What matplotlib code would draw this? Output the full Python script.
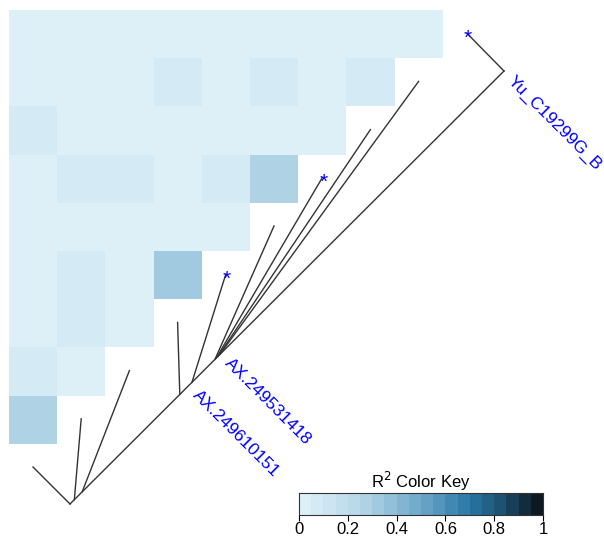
import numpy as np
import matplotlib.pyplot as plt
from matplotlib.colors import LinearSegmentedColormap, BoundaryNorm

plt.rcParams['font.family'] = ['Liberation Sans', 'DejaVu Sans']

# R^2 between SNP pairs, one list per row of the triangle
r2_rows = [
    [0.02, 0.02, 0.02, 0.02, 0.02, 0.02, 0.02, 0.02, 0.02],
    [0.02, 0.02, 0.02, 0.07, 0.02, 0.07, 0.02, 0.07],
    [0.07, 0.02, 0.02, 0.02, 0.02, 0.02, 0.02],
    [0.02, 0.07, 0.07, 0.02, 0.07, 0.27],
    [0.02, 0.02, 0.02, 0.02, 0.02],
    [0.02, 0.07, 0.02, 0.32],
    [0.02, 0.07, 0.02],
    [0.07, 0.02],
    [0.27],
]
# relative physical position of each SNP along the chromosome segment
snp_pos = [0.0, 0.010, 0.028, 0.253, 0.281, 0.334, 0.337, 0.341, 0.345, 1.0]
snp_star = [4, 6, 9]
label_names = ['AX.249610151', 'AX.249531418', 'Yu_C19299G_B']
label_pos = [0.285, 0.359, 1.01]

key_colors = ['#ddf0f8', '#b3d4e6', '#6ca7c9', '#2a78a8', '#1c4f6e', '#0e1820']
cmap = LinearSegmentedColormap.from_list('ldblue', list(zip([0, 0.25, 0.5, 0.7, 0.85, 1], key_colors)))
bounds = np.linspace(0, 1, 21)
norm = BoundaryNorm(bounds, cmap.N)

fig = plt.figure(figsize=(6.04, 5.37), dpi=100)
ax = fig.add_axes([0, 0, 1, 1])
ax.set_xlim(0, 604)
ax.set_ylim(537, 0)
ax.axis('off')

n = len(r2_rows)
mat = np.full((n, n), np.nan)
for r, row in enumerate(r2_rows):
    mat[r, :len(row)] = row
cell = 48.2
xe = 9 + cell * np.arange(n + 1)
ye = 10 + cell * np.arange(n + 1)
ax.pcolormesh(xe, ye, np.ma.masked_invalid(mat), cmap=cmap, norm=norm)

# chromosome segment and connectors to the triangle's diagonal
p0 = np.array([70, 504])
p1 = np.array([504, 71])
line_color = '#333333'
ax.plot([p0[0], p1[0]], [p0[1], p1[1]], color=line_color, lw=1)
for k, t in enumerate(snp_pos):
    start = p0 + t * (p1 - p0)
    end = np.array([33 + cell * k, 467 - cell * k])
    ax.plot([start[0], end[0]], [start[1], end[1]], color=line_color, lw=1)
    if k in snp_star:
        ax.text(end[0] + 1, end[1] + 5, '*', color='blue', fontsize=15,
                ha='center', va='center')

for name, t in zip(label_names, label_pos):
    anchor = p0 + t * (p1 - p0) + 7
    ax.text(anchor[0], anchor[1], name, color='blue', fontsize=12.5,
            rotation=-45, rotation_mode='anchor', ha='left', va='top')

# colour key
cax = fig.add_axes([299 / 604, 1 - 515 / 537, 244 / 604, 22 / 537])
cax.pcolormesh(bounds, [0, 1], ((bounds[:-1] + bounds[1:]) / 2)[None, :], cmap=cmap, norm=norm)
cax.set_xlim(0, 1)
cax.set_ylim(0, 1)
cax.set_yticks([])
cax.set_xticks([0, 0.2, 0.4, 0.6, 0.8, 1])
cax.set_xticklabels(['0', '0.2', '0.4', '0.6', '0.8', '1'])
cax.tick_params(axis='x', length=4, width=0.8, pad=1, labelsize=12)
for s in cax.spines.values():
    s.set_linewidth(0.8)
    s.set_color('#333333')
cax.set_title('R$^2$ Color Key', fontsize=12, pad=3)

fig.savefig('out.png', dpi=100)
